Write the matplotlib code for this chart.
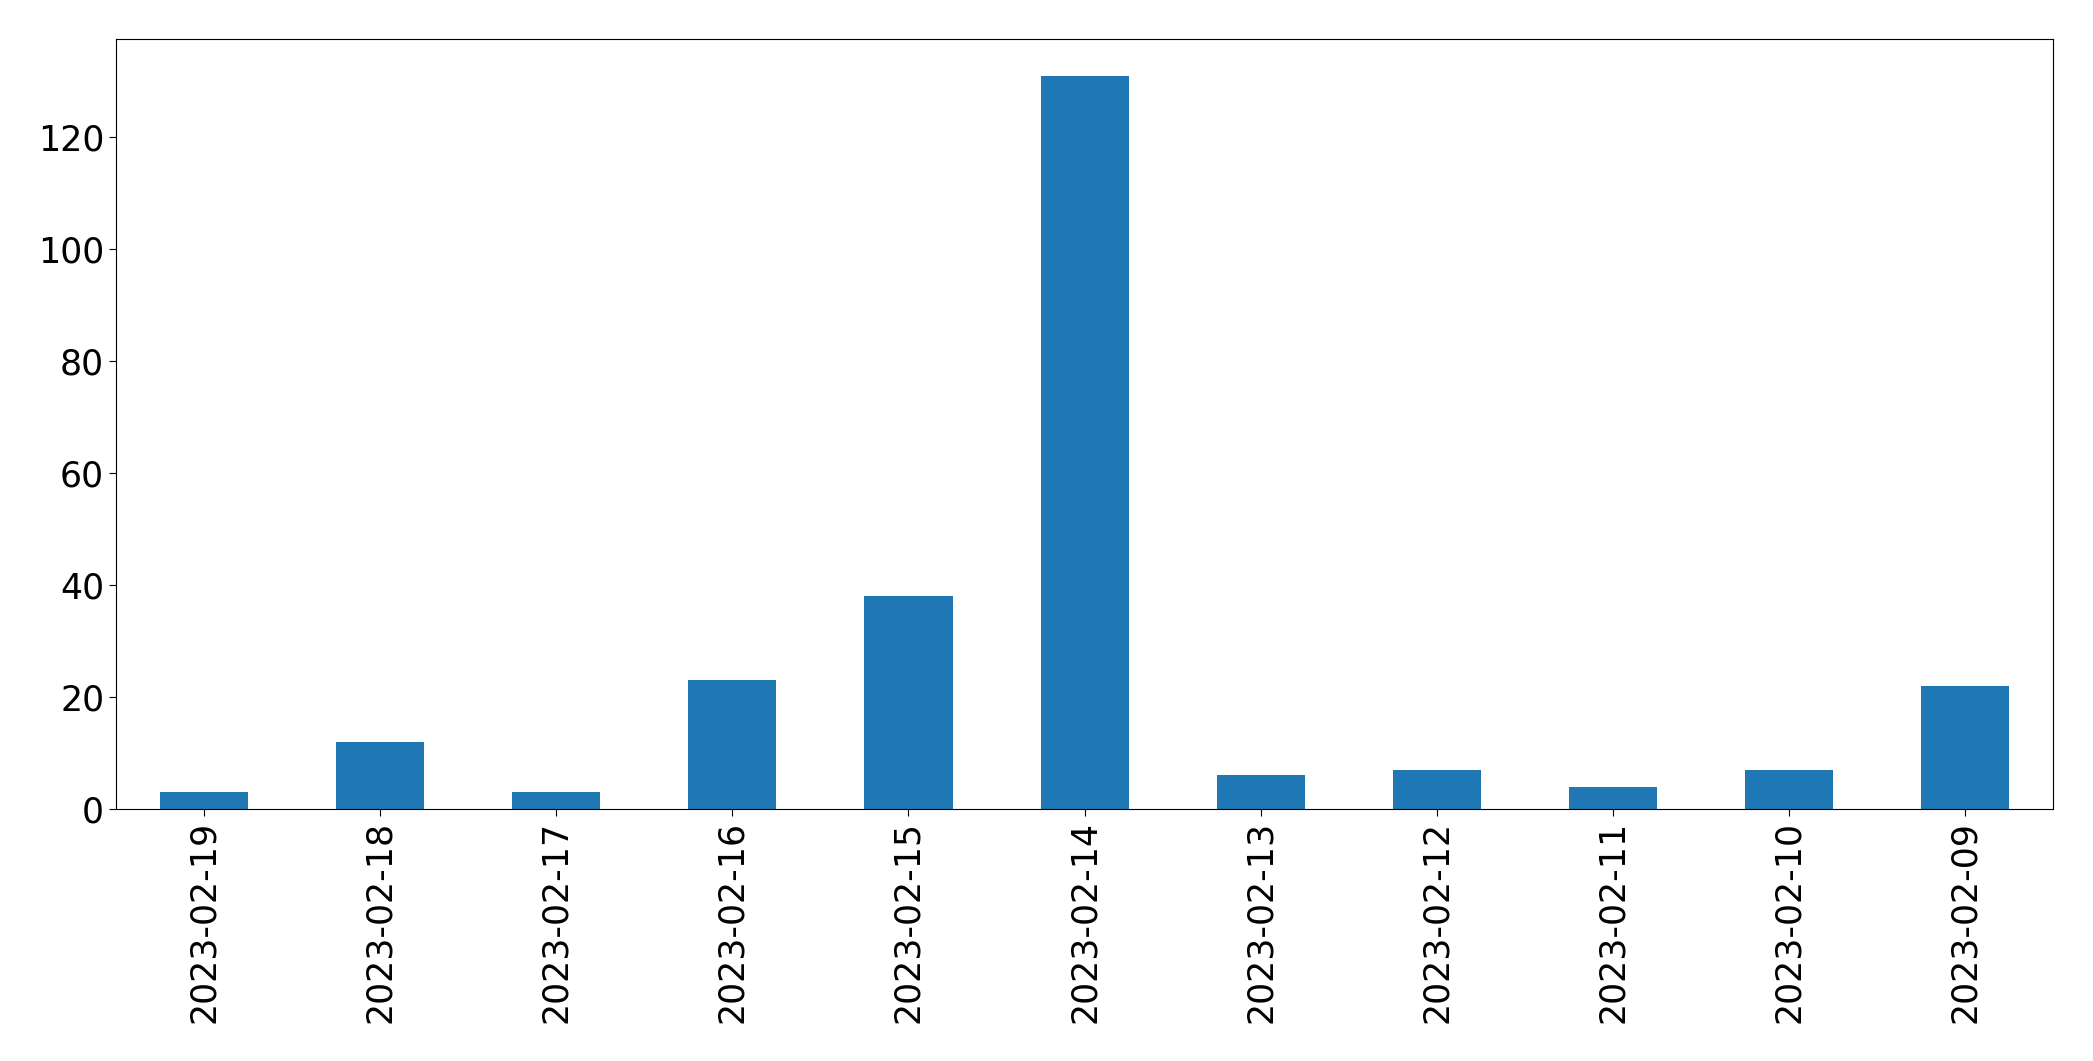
import matplotlib
matplotlib.use("Agg")
import matplotlib.pyplot as plt

dates = ["2023-02-19", "2023-02-18", "2023-02-17", "2023-02-16", "2023-02-15",
         "2023-02-14", "2023-02-13", "2023-02-12", "2023-02-11", "2023-02-10",
         "2023-02-09"]
counts = [3, 12, 3, 23, 38, 131, 6, 7, 4, 7, 22]

fig, ax = plt.subplots(figsize=(20.93, 10.61), dpi=100)
fig.subplots_adjust(left=0.0554, right=0.981, top=0.963, bottom=0.2375)

x = range(len(dates))
ax.bar(x, counts, width=0.5, color="#1f77b4")
ax.set_xlim(-0.5, len(dates) - 0.5)
ax.set_xticks(list(x))
ax.set_xticklabels(dates, rotation=90)
ax.tick_params(axis="both", labelsize=25, length=5)

fig.savefig("out.png", dpi=100)
